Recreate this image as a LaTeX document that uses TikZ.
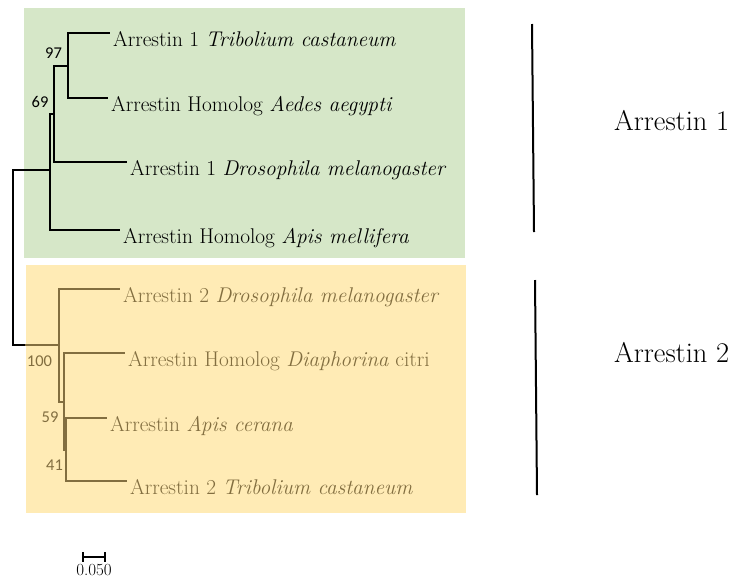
\documentclass[tikz,border=0pt]{standalone}
\usepackage{fontspec}
\newfontfamily\bootfont{Carlito}
\usetikzlibrary{positioning}
\definecolor{arrgreen}{HTML}{D6E7C8}
\definecolor{arryellow}{HTML}{FFEBB5}
\definecolor{arrbrown}{HTML}{826E40}
\tikzset{
	leaf/.style = {anchor=west, inner xsep=2pt, inner ysep=0pt,
	 text height=26pt, text depth=0pt, font=\fontsize{21.3}{25}\selectfont},
	boot/.style = {inner sep=0pt, font=\bootfont\fontsize{16.5}{18}\selectfont},
	groupbox/.style = {anchor=north west, inner sep=0pt, draw=none},
	grouplabel/.style = {anchor=base west, inner sep=0pt, font=\fontsize{28.5}{32}\selectfont}}

\begin{document}
\begin{tikzpicture}[x=1pt, y=-1pt, line width=2pt]
\useasboundingbox (0,0) rectangle (733,584);

% BOXES
\node (box1) [groupbox, fill=arrgreen, minimum width=441, minimum height=250] at (23,7) {};
\node (box2) [groupbox, fill=arryellow, minimum width=440, minimum height=248] at (25,264) {};

% NODES
\node (tcas1) [leaf] at (110,33) {Arrestin 1 \textit{Tribolium castaneum}};
\node (aaeg) [leaf] at (108,98) {Arrestin Homolog \textit{Aedes aegypti}};
\node (dmel1) [leaf] at (127,162) {Arrestin 1 \textit{Drosophila melanogaster}};
\node (amel) [leaf] at (120,230) {Arrestin Homolog \textit{Apis mellifera}};
\node (dmel2) [leaf, arrbrown] at (120,289) {Arrestin 2 \textit{Drosophila melanogaster}};
\node (dcit) [leaf, arrbrown] at (125,353) {Arrestin Homolog \textit{Diaphorina} citri};
\node (acer) [leaf, arrbrown] at (107,418) {Arrestin \textit{Apis cerana}};
\node (tcas2) [leaf, arrbrown] at (127,481) {Arrestin 2 \textit{Tribolium castaneum}};

\coordinate (n97) at (68,66);
\coordinate (n69) at (54,114);
\coordinate (arr1) at (50,170);
\coordinate (n100) at (59,345);
\coordinate (n59) at (64,402);
\coordinate (n41) at (66,450);
\coordinate (root) at (13,257);

\node (b97) [boot] at (53.5,53) {97};
\node (b69) [boot] at (40,102) {69};
\node (b100) [boot, arrbrown] at (39.5,361) {100};
\node (b59) [boot, arrbrown] at (50,417) {59};
\node (b41) [boot, arrbrown] at (54.5,465) {41};

\node (grp1) [grouplabel] at (613,130) {Arrestin 1};
\node (grp2) [grouplabel] at (613,362) {Arrestin 2};

%CONNECTIONS
\draw (n97) |- (tcas1.west);
\draw (n97) |- (aaeg.west);
\draw (n69) |- (n97);
\draw (n69) |- (dmel1.west);
\draw (arr1) |- (n69);
\draw (arr1) |- (amel.west);
\draw (root) |- (arr1);
\draw (root) |- (n100);

\begin{scope}[arrbrown]
\draw (n100 -| box2.west) -- (n100);
\draw (n100) |- (dmel2.west);
\draw (n100) |- (n59);
\draw (n59) |- (dcit.west);
\draw (n59) |- (n41);
\draw (n41) |- (acer.west);
\draw (n41) |- (tcas2.west);
\end{scope}

% CLADE BARS
\draw (532,24) -- (534,232);
\draw (535,280) -- (537,495);

% SCALE
\draw [line width=1.3pt] (83,552) -- (83,562) (83,557) -- (105,557) (105,552) -- (105,562);
\node (scale) [font=\fontsize{17}{19}\selectfont] at (94,570) {0.050};

\end{tikzpicture}
\end{document}
